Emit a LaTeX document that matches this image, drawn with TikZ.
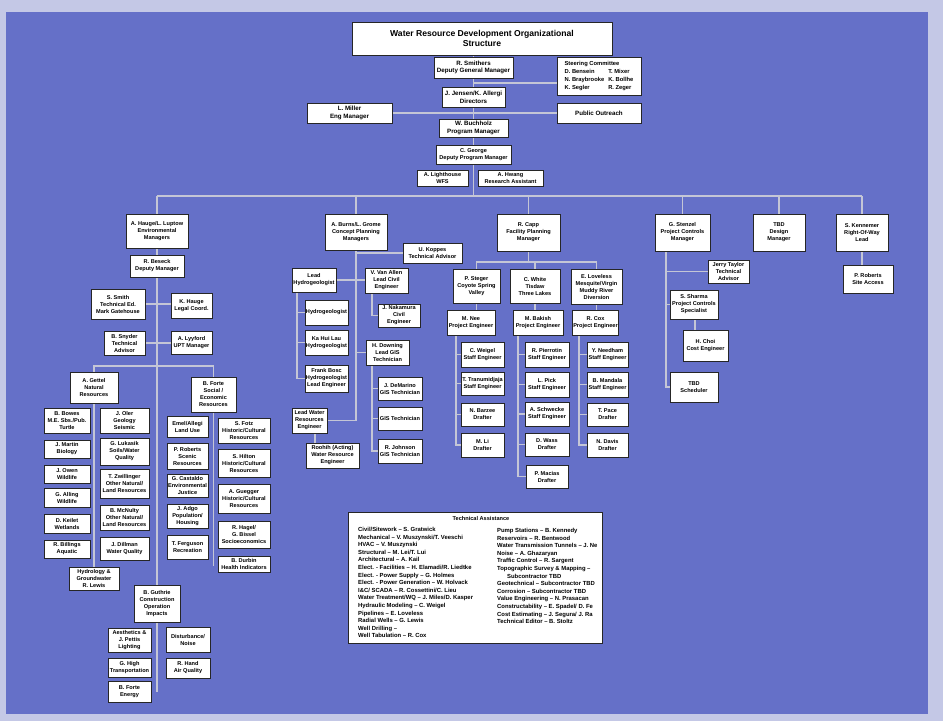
\documentclass[tikz,border=0pt]{standalone}
\usepackage{fontspec}
\setmainfont{Liberation Sans}
\definecolor{bluebg}{RGB}{101,112,200}
\definecolor{framebg}{RGB}{196,200,230}
\definecolor{linegray}{RGB}{196,198,214}
\pgfdeclarelayer{bgl}
\pgfdeclarelayer{lines}
\pgfsetlayers{bgl,lines,main}
\newcommand\bx[7][]{\node[box,minimum width={(#5-#3)*1pt},minimum height={(#6-#4)*1pt},#1] (#2) at ({(#3+#5)/2},{(#4+#6)/2}) {#7};}
\begin{document}
\begin{tikzpicture}[x=1pt,y=-1pt,
  box/.style={draw=black!85,fill=white,line width=0.6pt,inner sep=0.5pt,align=center,
    font=\fontsize{5.6}{7}\selectfont\bfseries},
  big/.style={font=\fontsize{6.2}{7.6}\selectfont\bfseries},
  conn/.style={draw=linegray,line width=1.1pt}]
\useasboundingbox (0,0) rectangle (943,721);
\begin{pgfonlayer}{bgl}
\fill[framebg] (0,0) rectangle (943,721);
\fill[bluebg] (6,12) rectangle (928,714);
\end{pgfonlayer}

% ---------- top ----------
\bx[font=\fontsize{8.6}{10.6}\selectfont\bfseries]{title}{352}{22}{612}{55}{Water Resource Development Organizational\\Structure}
\bx[big]{smith}{434}{57}{513}{78}{R. Smithers\\Deputy General Manager}
\bx[font=\fontsize{5.8}{7.7}\selectfont\bfseries]{steer}{557}{57}{641}{95}{\begin{tabular}{@{}l@{\hspace{4pt}}l@{}}\multicolumn{2}{@{}l}{Steering Committee}\\ D. Bensein & T. Mixer\\ N. Braybrooke & K. Bollhe\\ K. Segler & R. Zeger\end{tabular}}
\bx[big]{jensen}{442}{87}{505}{107}{J. Jensen/K. Allergi\\Directors}
\bx[big]{miller}{307}{103}{392}{123}{L. Miller\\Eng Manager}
\bx[big]{outreach}{557}{103}{641}{123}{Public Outreach}
\bx[big]{buch}{439}{119}{508}{137}{W. Buchholz\\Program Manager}
\bx{george}{436}{145}{511}{164}{C. George\\Deputy Program Manager}
\bx{lighth}{417}{170}{468}{186}{A. Lighthouse\\WFS}
\bx{hwang}{478}{170}{543}{186}{A. Hwang\\Research Assistant}

% ---------- managers ----------
\bx{hauge}{126}{214}{188}{248}{A. Hauge/L. Luptow\\Environmental\\Managers}
\bx{burns}{325}{214}{387}{250}{A. Burns/L. Grome\\Concept Planning\\Managers}
\bx{capp}{497}{214}{560}{251}{R. Capp\\Facility Planning\\Manager}
\bx{stenzel}{655}{214}{710}{251}{G. Stenzel\\Project Controls\\Manager}
\bx{tbdd}{753}{214}{805}{251}{TBD\\Design\\Manager}
\bx{kenn}{836}{214}{888}{251}{S. Kennemer\\Right-Of-Way\\Lead}

% ---------- environmental ----------
\bx{beseck}{130}{255}{184}{277}{R. Beseck\\Deputy Manager}
\bx{ssmith}{91}{289}{145}{319}{S. Smith\\Technical Ed.\\Mark Gatehouse}
\bx{khauge}{171}{293}{212}{318}{K. Hauge\\Legal Coord.}
\bx{snyder}{104}{331}{145}{355}{B. Snyder\\Technical\\Advisor}
\bx{lyyford}{171}{331}{212}{354}{A. Lyyford\\UPT Manager}
\bx{gettel}{70}{372}{118}{403}{A. Gettel\\Natural\\Resources}
\bx{forte}{191}{377}{236}{412}{B. Forte\\Social /\\Economic\\Resources}

\bx{nra}{44}{408}{90}{433}{B. Bowes\\M.E. Sbs./Pub.\\Turtle}
\bx{nrb}{44}{440}{90}{458}{J. Martin\\Biology}
\bx{nrc}{44}{465}{90}{483}{J. Owen\\Wildlife}
\bx{nrd}{44}{488}{90}{507}{G. Alling\\Wildlife}
\bx{nre}{44}{514}{90}{533}{D. Keilet\\Wetlands}
\bx{nrf}{44}{540}{90}{558}{R. Billings\\Aquatic}
\bx{nrg}{100}{408}{149}{433}{J. Oler\\Geology\\Seismic}
\bx{nrh}{100}{438}{149}{465}{G. Lukasik\\Soils/Water\\Quality}
\bx{nri}{100}{469}{149}{498}{T. Zwillinger\\Other Natural/\\Land Resources}
\bx{nrj}{100}{505}{149}{530}{B. McNulty\\Other Natural/\\Land Resources}
\bx{nrk}{100}{537}{149}{560}{J. Dillman\\Water Quality}
\bx{hydro}{69}{567}{119}{590}{Hydrology \&\\Groundwater\\R. Lewis}

\bx{sea}{167}{416}{208}{437}{Emel/Allegi\\Land Use}
\bx{seb}{167}{443}{208}{469}{P. Roberts\\Scenic\\Resources}
\bx{sec}{167}{474}{208}{497}{G. Castaldo\\Environmental\\Justice}
\bx{sed}{167}{504}{208}{528}{J. Adgo\\Population/\\Housing}
\bx{see}{167}{535}{208}{559}{T. Ferguson\\Recreation}
\bx{sef}{218}{418}{270}{443}{S. Fotz\\Historic/Cultural\\Resources}
\bx{seg}{218}{449}{270}{477}{S. Hilton\\Historic/Cultural\\Resources}
\bx{seh}{218}{484}{270}{513}{A. Guegger\\Historic/Cultural\\Resources}
\bx{sei}{218}{521}{270}{548}{R. Hagel/\\G. Bissel\\Socioeconomics}
\bx{sej}{218}{556}{270}{572}{B. Durbin\\Health Indicators}

\bx{guthrie}{134}{585}{180}{622}{B. Guthrie\\Construction\\Operation\\Impacts}
\bx{cia}{108}{628}{151}{652}{Aesthetics \&\\J. Pettis\\Lighting}
\bx{cib}{166}{627}{210}{652}{Disturbance/\\Noise}
\bx{cic}{108}{658}{151}{677}{G. High\\Transportation}
\bx{cid}{166}{658}{210}{678}{R. Hand\\Air Quality}
\bx{cie}{108}{681}{151}{702}{B. Forte\\Energy}

% ---------- concept planning ----------
\bx{koppes}{403}{243}{462}{263}{U. Koppes\\Technical Advisor}
\bx{leadhyd}{292}{268}{336}{292}{Lead\\Hydrogeologist}
\bx{vanallen}{365}{268}{408}{293}{V. Van Allen\\Lead Civil\\Engineer}
\bx{hyda}{305}{300}{348}{325}{Hydrogeologist}
\bx{hydb}{305}{330}{348}{355}{Ka Hui Lau\\Hydrogeologist}
\bx{hydc}{305}{365}{348}{392}{Frank Bosc\\Hydrogeologist\\Lead Engineer}
\bx{civil}{378}{304}{420}{327}{J. Nakamura\\Civil\\Engineer}
\bx{downing}{366}{340}{409}{365}{H. Downing\\Lead GIS\\Technician}
\bx{gisa}{378}{377}{422}{400}{J. DeMarino\\GIS Technician}
\bx{gisb}{378}{407}{422}{430}{GIS Technician}
\bx{gisc}{378}{439}{422}{463}{R. Johnson\\GIS Technician}
\bx{leadwater}{292}{408}{327}{433}{Lead Water\\Resources\\Engineer}
\bx{roohih}{306}{443}{359}{468}{Roohih (Acting)\\Water Resource\\Engineer}

% ---------- facility planning ----------
\bx{steger}{453}{269}{500}{303}{P. Steger\\Coyote Spring\\Valley}
\bx{white}{510}{269}{560}{303}{C. White\\Tisdaw\\Three Lakes}
\bx{loveless}{571}{269}{622}{304}{E. Loveless\\Mesquite/Virgin\\Muddy River\\Diversion}
\bx{nee}{447}{310}{495}{335}{M. Nee\\Project Engineer}
\bx{bakish}{513}{310}{563}{335}{M. Bakish\\Project Engineer}
\bx{cox}{573}{310}{618}{335}{R. Cox\\Project Engineer}
\bx{faa}{461}{342}{504}{367}{C. Weigel\\Staff Engineer}
\bx{fab}{461}{372}{504}{395}{T. Tranumidjaja\\Staff Engineer}
\bx{fac}{461}{403}{504}{426}{N. Barzee\\Drafter}
\bx{fad}{461}{433}{504}{457}{M. Li\\Drafter}
\bx{fba}{525}{342}{569}{367}{R. Pierrotin\\Staff Engineer}
\bx{fbb}{525}{372}{569}{397}{L. Pick\\Staff Engineer}
\bx{fbc}{525}{402}{569}{426}{A. Schwecke\\Staff Engineer}
\bx{fbd}{525}{433}{569}{456}{D. Wass\\Drafter}
\bx{fbe}{526}{465}{568}{488}{P. Macias\\Drafter}
\bx{fca}{587}{342}{628}{367}{Y. Needham\\Staff Engineer}
\bx{fcb}{587}{372}{628}{397}{B. Mandala\\Staff Engineer}
\bx{fcc}{587}{403}{628}{426}{T. Pace\\Drafter}
\bx{fcd}{587}{433}{628}{457}{N. Davis\\Drafter}

% ---------- project controls / ROW ----------
\bx{taylor}{708}{260}{749}{283}{Jerry Taylor\\Technical\\Advisor}
\bx{sharma}{670}{290}{718}{319}{S. Sharma\\Project Controls\\Specialist}
\bx{choi}{683}{330}{728}{361}{H. Choi\\Cost Engineer}
\bx{sched}{670}{372}{718}{402}{TBD\\Scheduler}
\bx{roberts}{843}{265}{893}{293}{P. Roberts\\Site Access}

% ---------- technical assistance ----------
\node[draw=black!85,fill=white,line width=0.6pt,minimum width=254pt,minimum height=131pt,inner sep=0pt] (ta) at (475,577.5) {};
\node[font=\fontsize{5.6}{6}\selectfont\bfseries] (tatitle) at (481,518) {Technical Assistance};
\begin{scope}
\clip (ta.south west) rectangle (ta.north east);
\node[anchor=north west,align=left,inner sep=0pt,font=\fontsize{5.9}{7.6}\selectfont\bfseries] (tal) at (358,527) {Civil/Sitework -- S. Gratwick\\
Mechanical -- V. Muszynski/T. Veeschi\\
HVAC -- V. Muszynski\\
Structural -- M. Lei/T. Lui\\
Architectural -- A. Kail\\
Elect. - Facilities -- H. Elamadi/R. Liedtke\\
Elect. - Power Supply -- G. Holmes\\
Elect. - Power Generation -- W. Holvack\\
I\&C/ SCADA -- R. Cossettini/C. Lieu\\
Water Treatment/WQ -- J. Miles/D. Kasper\\
Hydraulic Modeling -- C. Weigel\\
Pipelines -- E. Loveless\\
Radial Wells -- G. Lewis\\
Well Drilling --\\
Well Tabulation -- R. Cox};
\node[anchor=north west,align=left,inner sep=0pt,font=\fontsize{5.9}{7.6}\selectfont\bfseries] (tar) at (497,528) {Pump Stations -- B. Kennedy\\
Reservoirs -- R. Bentwood\\
Water Transmission Tunnels -- J. Ne\\
Noise -- A. Ghazaryan\\
Traffic Control -- R. Sargent\\
Topographic Survey \& Mapping --\\
\hspace*{10pt}Subcontractor TBD\\
Geotechnical -- Subcontractor TBD\\
Corrosion -- Subcontractor TBD\\
Value Engineering -- N. Prasacan\\
Constructability -- E. Spadel/ D. Fe\\
Cost Estimating -- J. Segura/ J. Ra\\
Technical Editor -- B. Stoltz};
\end{scope}

% ---------- connectors ----------
\begin{pgfonlayer}{lines}
\draw[conn] (smith.north |- title.south) -- (smith.north);
\draw[conn] (smith.south) -- (jensen.north);
\draw[conn] (jensen.south) -- (buch.north);
\draw[conn] (buch.south) -- (george.north);
\coordinate (sj) at (473.5,83);
\draw[conn] (sj) -- (sj -| steer.west);
\draw[conn] (miller.east) -- (outreach.west);
\coordinate (busL) at (157,196);
\coordinate (busR) at (862,196);
\draw[conn] (george.south) -- (george.south |- busL);
\draw[conn] (busL) -- (busR);
\foreach \n in {hauge,burns,capp,stenzel,tbdd,kenn}
  \draw[conn] (\n.north |- busL) -- (\n.north);
% environmental
\draw[conn] (hauge.south) -- (beseck.north);
\draw[conn] (beseck.south) -- (guthrie.north);
\draw[conn] (ssmith.east) -- (ssmith.east -| khauge.west);
\draw[conn] (snyder.east) -- (snyder.east -| lyyford.west);
\coordinate (envbar) at (157,366);
\draw[conn] (gettel.north) -- (gettel.north |- envbar) -- (forte.north |- envbar) -- (forte.north);
\draw[conn] (gettel.south) -- (hydro.north);
\coordinate (fend) at (213.5,566);
\draw[conn] (forte.south) -- (fend);
\coordinate (gend) at (157,692);
\draw[conn] (guthrie.south) -- (gend);
% concept planning
\coordinate (cpend) at (356,420.5);
\draw[conn] (burns.south) -- (cpend) -- (cpend -| leadwater.east);
\draw[conn] (burns.south |- koppes.west) -- (koppes.west);
\draw[conn] (leadhyd.east) -- (leadhyd.east -| vanallen.west);
\coordinate (lhtop) at (297,292);
\draw[conn] (lhtop) |- (hydc.west);
\draw[conn] (hyda.west -| lhtop) -- (hyda.west);
\draw[conn] (hydb.west -| lhtop) -- (hydb.west);
\coordinate (vatop) at (372,293);
\draw[conn] (vatop) |- (civil.west);
\draw[conn] (burns.south |- downing.west) -- (downing.west);
\coordinate (dtop) at (372,365);
\draw[conn] (dtop) |- (gisc.west);
\draw[conn] (gisa.west -| dtop) -- (gisa.west);
\draw[conn] (gisb.west -| dtop) -- (gisb.west);
\coordinate (lw) at (315,433);
\draw[conn] (lw) -- (lw |- roohih.north);
% facility planning
\coordinate (fbar) at (528.5,262);
\draw[conn] (capp.south) -- (fbar);
\draw[conn] (steger.north) -- (steger.north |- fbar) -- (loveless.north |- fbar) -- (loveless.north);
\draw[conn] (white.north |- fbar) -- (white.north);
\draw[conn] (steger.south) -- (steger.south |- nee.north);
\draw[conn] (white.south) -- (white.south |- bakish.north);
\draw[conn] (loveless.south) -- (loveless.south |- cox.north);
\coordinate (fa) at (456,335);
\draw[conn] (fa) |- (fad.west);
\foreach \n in {faa,fab,fac} \draw[conn] (\n.west -| fa) -- (\n.west);
\coordinate (fb) at (518,335);
\draw[conn] (fb) |- (fbe.west);
\foreach \n in {fba,fbb,fbc,fbd} \draw[conn] (\n.west -| fb) -- (\n.west);
\coordinate (fc) at (579,335);
\draw[conn] (fc) |- (fcd.west);
\foreach \n in {fca,fcb,fcc} \draw[conn] (\n.west -| fc) -- (\n.west);
% project controls
\coordinate (pc) at (666,251);
\draw[conn] (pc) |- (sched.west);
\draw[conn] (taylor.west -| pc) -- (taylor.west);
\draw[conn] (sharma.west -| pc) -- (sharma.west);
\coordinate (sc) at (695,319);
\draw[conn] (sc) -- (sc |- choi.north);
\draw[conn] (kenn.south) -- (kenn.south |- roberts.north);
\end{pgfonlayer}
\end{tikzpicture}
\end{document}
